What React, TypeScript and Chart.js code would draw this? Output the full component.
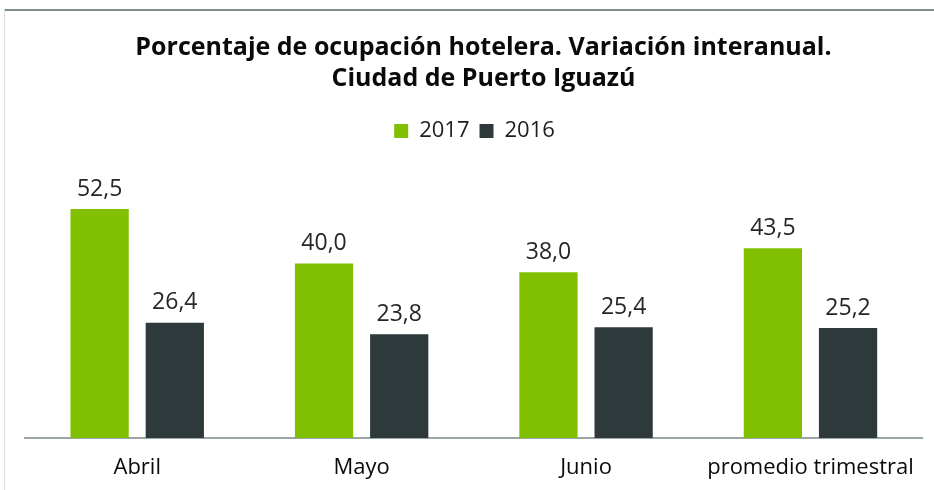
import React, { useEffect, useRef } from "react";
import { Chart, registerables } from "chart.js";

Chart.register(...registerables);

const categories = ["Abril", "Mayo", "Junio", "promedio trimestral"];
const values2017 = [52.5, 40.0, 38.0, 43.5];
const values2016 = [26.4, 23.8, 25.4, 25.2];
const seriesLabels = ["2017", "2016"];
const titleLines = [
  "Porcentaje de ocupación hotelera. Variación interanual.",
  "Ciudad de Puerto Iguazú",
];

const GREEN = "#80c000";
const DARK = "#2e393c";
const FONT = "'Open Sans', 'DejaVu Sans', sans-serif";
const TITLE_SIZE = 25;
const TITLE_LINE = 31;
const TITLE_PAD_TOP = 16;

const dataLabelPlugin = {
  id: "dataLabels",
  afterDatasetsDraw(chart: any) {
    const ctx = chart.ctx;
    ctx.save();
    ctx.font = `400 23px ${FONT}`;
    ctx.fillStyle = "#262626";
    ctx.textAlign = "center";
    ctx.textBaseline = "middle";
    chart.data.datasets.forEach((ds: any, i: number) => {
      const meta = chart.getDatasetMeta(i);
      meta.data.forEach((bar: any, j: number) => {
        const v = ds.data[j] as number;
        ctx.fillText(v.toFixed(1).replace(".", ","), bar.x, bar.y - 20);
      });
    });
    ctx.restore();
  },
};

// Draws the title text slightly right of the layout centre (as in the reference)
const titleTextPlugin = {
  id: "titleText",
  afterDraw(chart: any) {
    const tb = chart.titleBlock;
    if (!tb) return;
    const ctx = chart.ctx;
    ctx.save();
    ctx.font = `bold ${TITLE_SIZE}px ${FONT}`;
    ctx.fillStyle = "#0a0a0a";
    ctx.textAlign = "center";
    ctx.textBaseline = "middle";
    const cx = (tb.left + tb.right) / 2 + 9;
    titleLines.forEach((line, i) => {
      ctx.fillText(line, cx, tb.top + TITLE_PAD_TOP + TITLE_LINE * (i + 0.5));
    });
    ctx.restore();
  },
};

export default function App() {
  const ref = useRef<HTMLCanvasElement>(null);
  useEffect(() => {
    if (!ref.current) return;
    const chart = new Chart(ref.current, {
      type: "bar",
      data: {
        labels: categories,
        datasets: [
          { label: seriesLabels[0], data: values2017, backgroundColor: GREEN },
          { label: seriesLabels[1], data: values2016, backgroundColor: DARK },
        ],
      },
      options: {
        animation: false,
        responsive: false,
        maintainAspectRatio: false,
        devicePixelRatio: 1,
        layout: { padding: { left: 25, right: 10, top: 16, bottom: 2 } },
        datasets: {
          bar: { categoryPercentage: 0.67, barPercentage: 0.775 },
        },
        plugins: {
          title: {
            display: true,
            text: titleLines,
            color: "rgba(0,0,0,0)",
            font: { family: FONT, size: TITLE_SIZE, weight: "bold", lineHeight: `${TITLE_LINE}px` },
            padding: { top: TITLE_PAD_TOP, bottom: 16 },
          },
          legend: {
            display: true,
            labels: {
              boxWidth: 14,
              boxHeight: 14,
              color: "#1e1e1e",
              font: { family: FONT, size: 22 },
              padding: 10,
            },
          },
          tooltip: { enabled: false },
        },
        scales: {
          x: {
            grid: { display: false, drawTicks: false },
            border: { display: true, color: "#9aa5a5", width: 2 },
            ticks: {
              color: "#0a0a0a",
              font: { family: FONT, size: 22, lineHeight: 1 },
              padding: 19,
            },
          },
          y: {
            display: false,
            min: 0,
            max: 65.57,
          },
        },
      },
      plugins: [dataLabelPlugin, titleTextPlugin],
    });
    return () => chart.destroy();
  }, []);

  return (
    <div style={{ position: "fixed", left: 0, top: 0, width: 934, height: 490, background: "#fff", overflow: "hidden" }}>
      <canvas ref={ref} width={934} height={500} style={{ position: "absolute", left: 0, top: 0, width: 934, height: 500 }} />
      <div style={{ position: "absolute", left: 4, top: 9, right: 0, height: 2, background: "#7f8c8c" }} />
      <div style={{ position: "absolute", left: 4, top: 9, bottom: 0, width: 1, background: "#e0e0e0" }} />
    </div>
  );
}
